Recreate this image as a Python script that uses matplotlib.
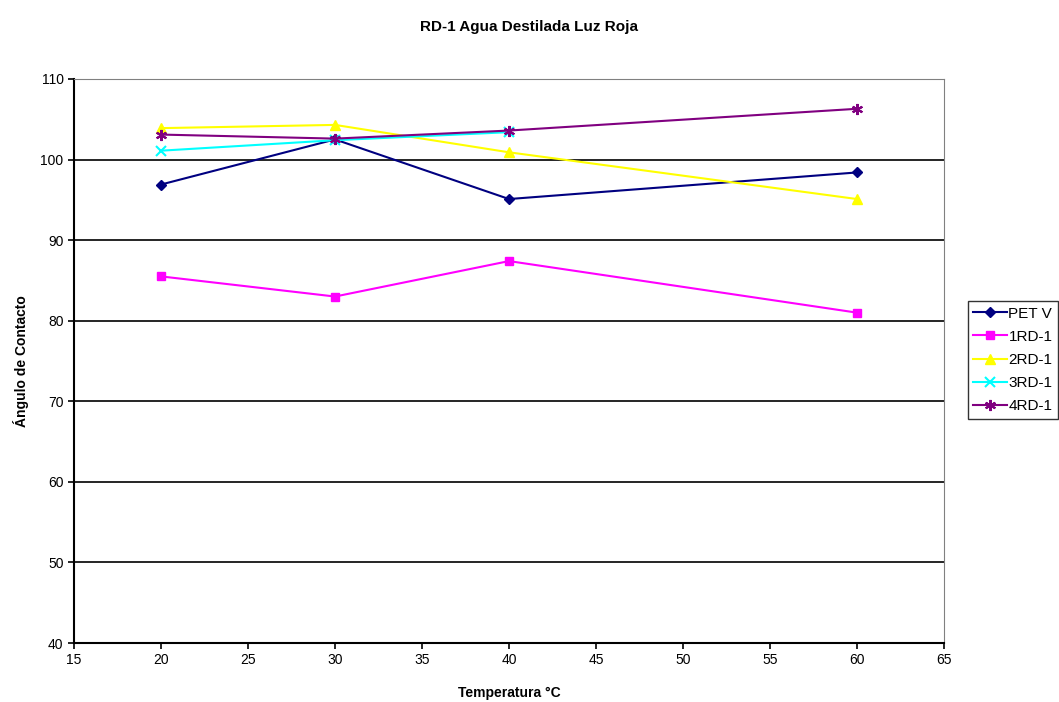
import matplotlib
matplotlib.use("Agg")
import matplotlib.pyplot as plt

plt.rcParams['font.family'] = ['Liberation Sans', 'DejaVu Sans']

# Temperaturas y ángulos de contacto por muestra
temperaturas = [20, 30, 40, 60]
pet_v = [96.9, 102.5, 95.1, 98.4]
rd1_1 = [85.5, 83.0, 87.4, 81.0]
rd1_2 = [103.9, 104.3, 100.9, 95.1]
rd1_3 = [101.1, 102.4, 103.4]
rd1_4 = [103.1, 102.6, 103.6, 106.3]

fig = plt.figure(figsize=(10.59, 7.02), dpi=100)
ax = fig.add_axes([0.0699, 0.084, 0.8215, 0.8035])

ax.plot(temperaturas, pet_v, color='#000080', marker='D', markersize=5, linewidth=1.5, label='PET V')
ax.plot(temperaturas, rd1_1, color='#FF00FF', marker='s', markersize=6, linewidth=1.5, label='1RD-1')
ax.plot(temperaturas, rd1_2, color='#FFFF00', marker='^', markersize=7, linewidth=1.5, label='2RD-1')
ax.plot(temperaturas[:3], rd1_3, color='#00FFFF', marker='x', markersize=7, markeredgewidth=1.5, linewidth=1.5, label='3RD-1')
ax.plot(temperaturas, rd1_4, color='#800080', marker=(6, 2, 0), markersize=8, markeredgewidth=1.5, linewidth=1.5, label='4RD-1')

ax.set_xlim(15, 65)
ax.set_ylim(40, 110)
ax.set_xticks(range(15, 66, 5))
ax.set_yticks(range(40, 111, 10))
ax.yaxis.grid(True, color='black', linewidth=1.2)
ax.set_axisbelow(True)

for lado in ['top', 'right']:
    ax.spines[lado].set_color('#808080')
for lado in ['left', 'bottom']:
    ax.spines[lado].set_linewidth(1.5)
ax.tick_params(direction='out', length=4, width=1.2, labelsize=10)

ax.set_xlabel('Temperatura °C', fontsize=10, fontweight='bold', labelpad=13)
ax.set_ylabel('Ángulo de Contacto', fontsize=10, fontweight='bold', labelpad=8)
fig.suptitle('RD-1 Agua Destilada Luz Roja', fontsize=11, fontweight='bold', y=0.961, va='center')

leg = ax.legend(loc='center left', bbox_to_anchor=(1.0276, 0.502), frameon=True, fancybox=False,
                edgecolor='black', fontsize=11, handlelength=2.2, handletextpad=0.1,
                borderpad=0.35, labelspacing=0.6, borderaxespad=0)
leg.get_frame().set_linewidth(1.0)

fig.savefig('out.png', dpi=100)
